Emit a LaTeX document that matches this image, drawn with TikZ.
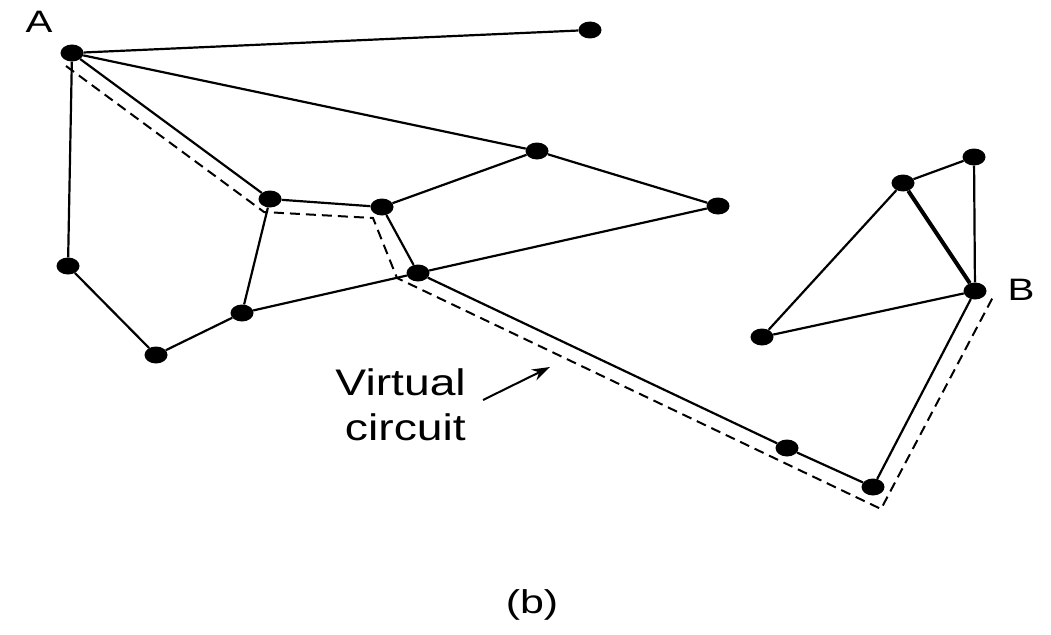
\documentclass[tikz,border=0pt]{standalone}
\usepackage{fontspec}
\setmainfont{Liberation Sans}
\usetikzlibrary{shapes.geometric,arrows.meta}
\begin{document}
\begin{tikzpicture}[x=1pt,y=-1pt,
  dot/.style={ellipse,fill=black,inner sep=0pt,minimum width=23pt,minimum height=17pt},
  link/.style={line width=2.2pt},
  heavy/.style={line width=4pt},
  vc/.style={line width=2pt,dash pattern=on 10pt off 6pt},
  lbl/.style={font=\fontsize{31}{36}\selectfont,xscale=1.3,inner sep=0pt}]
\useasboundingbox (0,0) rectangle (1051,634);
% nodes
\node[dot] (A) at (72,53) {};
\node[dot] (t) at (590,30) {};
\node[dot] (m1) at (537,151) {};
\node[dot] (r1) at (718,206) {};
\node[dot] (c1) at (270,199) {};
\node[dot] (c2) at (382,207) {};
\node[dot] (c3) at (418,273) {};
\node[dot] (l1) at (68,266) {};
\node[dot] (l2) at (156,355) {};
\node[dot] (l3) at (242,313) {};
\node[dot] (d1) at (787,448) {};
\node[dot] (d2) at (873,487) {};
\node[dot] (B) at (975,291) {};
\node[dot] (e1) at (903,183) {};
\node[dot] (e2) at (974,157) {};
\node[dot] (e3) at (762,337) {};
% labels
\node[lbl] (la) at (39,22) {A};
\node[lbl] (lb) at (1021,290) {B};
\node[lbl,font=\fontsize{33}{38}\selectfont] (cap) at (532,605) {(b)};
\node[font=\fontsize{37}{45}\selectfont,xscale=1.25,align=right,inner sep=0pt,anchor=north east] (vt) at (466,368) {Virtual\\circuit};
% edges
\draw[link] (A) -- (t);
\draw[link] (A) -- (m1);
\draw[link] (m1) -- (r1);
\draw[link] (A) -- (c1);
\draw[link] (A) -- (l1);
\draw[link] (l1) -- (l2);
\draw[link] (l2) -- (l3);
\draw[link] (l3) -- (c1);
\draw[link] (l3) -- (c3);
\draw[link] (c1) -- (c2);
\draw[link] (c2) -- (m1);
\draw[link] (c2) -- (c3);
\draw[link] (c3) -- (r1);
\draw[link] (c3) -- (d1);
\draw[link] (d1) -- (d2);
\draw[link] (d2) -- (B);
\draw[heavy] (e1) -- (B);
\draw[link] (e1) -- (e2);
\draw[link] (e2) -- (B);
\draw[link] (e1) -- (e3);
\draw[link] (e3) -- (B);
% virtual circuit
\coordinate (v0) at (66,66);
\coordinate (v1) at (264,212);
\coordinate (v2) at (373,218);
\coordinate (v3) at (397,278);
\coordinate (v4) at (881,509);
\coordinate (v5) at (993,297);
\draw[vc] (v0) -- (v1) -- (v2) -- (v3) -- (v4) -- (v5);
% pointer
\coordinate (p0) at (483,400);
\coordinate (p1) at (550,367);
\draw[line width=2pt,-{Stealth[length=18pt,width=12pt]}] (p0) -- (p1);
\end{tikzpicture}
\end{document}
